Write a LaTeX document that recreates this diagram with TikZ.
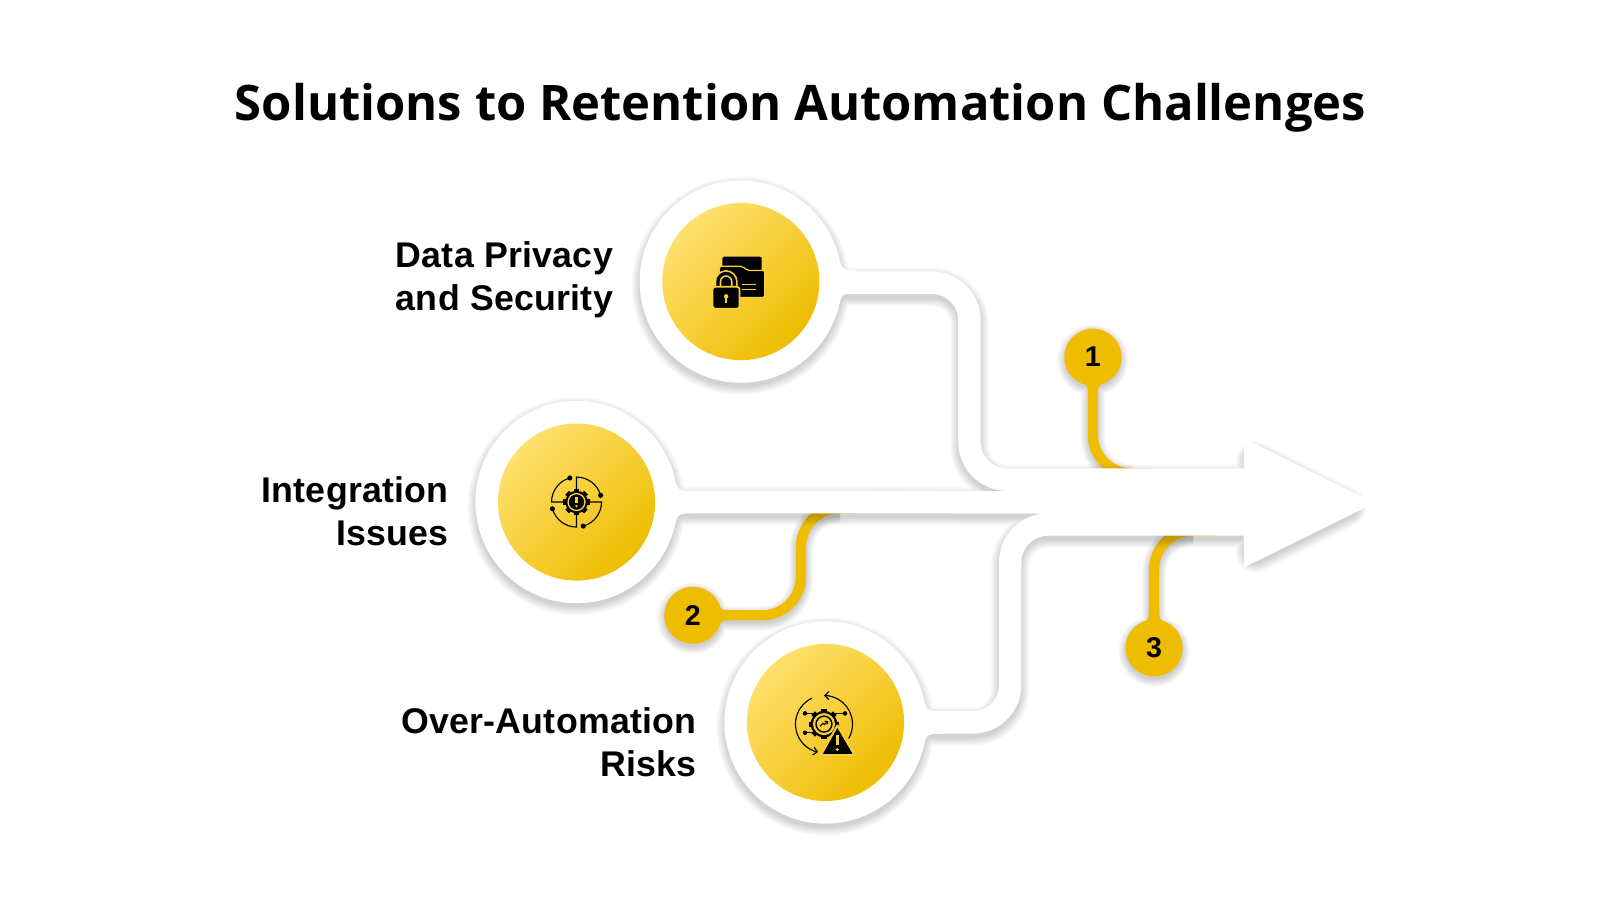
\documentclass[tikz,border=0pt]{standalone}
\usepackage{fontspec}
\usetikzlibrary{arrows.meta}
\newfontfamily\titlefont{Open Sans}[Scale=1]
\setmainfont{Liberation Sans}
\newfontfamily\labfont{Liberation Sans Bold}[LetterSpace=0.8]
\newfontfamily\numfont{Liberation Sans Bold}
\definecolor{gold}{HTML}{EEBD00}
\definecolor{goldlight}{HTML}{FFE06E}
\definecolor{goldmid}{HTML}{F8CE3A}
\tikzset{
  ring/.style={circle,fill=white,minimum size=198pt,inner sep=0pt},
  disc/.style={circle,left color=goldlight,right color=gold,shading angle=45,minimum size=154pt,inner sep=0pt},
  pinball/.style={circle,fill=gold,minimum size=56pt,inner sep=0pt,font=\numfont\fontsize{28}{28}\selectfont},
  stem/.style={gold,line width=10pt,rounded corners=38pt},
  bandline/.style={draw=white,line width=22pt,line join=round},
  lab/.style={anchor=east,align=right,inner sep=0pt,font=\labfont\fontsize{35}{42}\selectfont},
  ic/.style={black,line width=1.1pt},
}
\def\SilPath{[rounded corners=37pt] (c1) -- (j1) -- (k1) -- (k2) -- (m1) (c3) -- (k3) -- (k4) -- (m3)
  [sharp corners] (c2) -- (1230,492.4) (m1) -- (1230,470) (m3) -- (1230,514)
  (1230,447.4) -- (1320.4,493) -- (1230,538.2) -- cycle
  (c1) circle[radius=88pt] (c2) circle[radius=88pt] (c3) circle[radius=88pt]
  (810,252) .. controls (818,277) .. (840,277) (810,300) .. controls (818,277) .. (840,277)
  (649,468) .. controls (657,492) .. (679,492) (649,516) .. controls (657,492) .. (679,492)
  (893,684) .. controls (901,708) .. (923,708) (893,732) .. controls (901,708) .. (923,708)}
\def\PinPath{[rounded corners=38pt] (p1) -- (1071,464) -- (1109,464) (p3) -- (1131,520) -- (1169,520) (p2) -- (785,603) -- (785,498) -- (823,498)
  [sharp corners]}
\newcommand\pinneck[2]{\fill[gold,shift={(#1)},rotate=#2] (23pt,12pt) .. controls (29pt,5pt) .. (36pt,5pt) -- (36pt,-5pt) .. controls (29pt,-5pt) .. (23pt,-12pt) -- cycle;}
\newcommand\junc[1]{\fill[white,shift={(#1)}] (94pt,29pt) .. controls (99pt,11pt) .. (114pt,11pt) -- (114pt,-11pt) .. controls (99pt,-11pt) .. (94pt,-29pt) -- cycle;}
\begin{document}
\begin{tikzpicture}[x=1pt,y=-1pt]
\useasboundingbox (0,0) rectangle (1568,881);
\fill[white] (0,0) rectangle (1568,881);
\coordinate (c1) at (726,276);
\coordinate (c2) at (565,492);
\coordinate (c3) at (809,708);
\coordinate (j1) at (800,277);
\coordinate (k1) at (950,277);
\coordinate (k2) at (950,470);
\coordinate (m1) at (1040,470);
\coordinate (k3) at (990,708);
\coordinate (k4) at (990,514);
\coordinate (m3) at (1060,514);
\coordinate (p1) at (1071,350);
\coordinate (p2) at (679,603);
\coordinate (p3) at (1131,635);
% pin shadows
\foreach \k in {0,1,...,7}{
  \path[draw=black,draw opacity=.022,transform canvas={yshift=-3pt},line width={10pt+\k*2pt}] \PinPath
     (p1) circle[radius=23pt] (p2) circle[radius=23pt] (p3) circle[radius=23pt];
}
% pins
\draw[stem] (p1) -- (1071,464) -- (1130,464);
\draw[stem] (p3) -- (1131,520) -- (1190,520);
\draw[stem] (p2) -- (785,603) -- (785,498) -- (840,498);
\pinneck{p1}{-90}
\pinneck{p3}{90}
\pinneck{p2}{0}
\node[pinball] (pin1) at (p1) {1};
\node[pinball] (pin2) at (p2) {2};
\node[pinball] (pin3) at (p3) {3};
% silhouette shadow
\foreach \k in {0,1,...,8}{
  \path[draw=black,draw opacity=.02,transform canvas={yshift=-4pt},line join=round,line width={22pt+\k*2pt}] \SilPath;
}
% white shapes
\draw[bandline] \SilPath;
\fill[white] (1219,429.6) -- (1347,493) -- (1219,556) -- cycle;
\junc{c1}
\junc{c2}
\junc{c3}
\node[ring] (ring1) at (c1) {};
\node[ring] (ring2) at (c2) {};
\node[ring] (ring3) at (c3) {};
\node[disc] (disc1) at (c1) {};
\node[disc] (disc2) at (c2) {};
\node[disc] (disc3) at (c3) {};
% title and labels
\node[font=\titlefont\bfseries\fontsize{48}{58}\selectfont] (title) at (784.5,106) {Solutions to Retention Automation Challenges};
\node[lab] (lab1) at (601,274) {Data Privacy\\and Security};
\node[lab] (lab2) at (440,501) {Integration\\Issues};
\node[lab] (lab3) at (683,727) {Over-Automation\\Risks};
% icon 1: folder and lock
\fill[black,rounded corners=2pt] (708,251.5) rectangle (746.5,266);
\filldraw[fill=black,draw=goldmid,line width=1.2pt,rounded corners=2pt] (705,261) -- (728,261) -- (732,265) -- (749.5,265) -- (749.5,291.5) -- (705,291.5) -- cycle;
\draw[goldmid,line width=6.5pt] (703.6,283) -- (703.6,276) arc[start angle=180,end angle=0,radius=8pt] -- (719.6,283);
\draw[black,line width=3.2pt] (703.6,283) -- (703.6,276) arc[start angle=180,end angle=0,radius=8pt] -- (719.6,283);
\filldraw[fill=black,draw=goldmid,line width=1.6pt,rounded corners=2.5pt] (698.4,281) rectangle (724.7,302.5);
\fill[goldmid] (711.6,290.5) circle[radius=2.2pt];
\draw[goldmid,line width=1.3pt] (711.6,290.5) -- (711.6,296.5);
\draw[goldmid,line width=1.2pt] (727,279) -- (741,279) (727,283.5) -- (741,283.5);
% icon 2: gear with alert
\begin{scope}[shift={(c2)}]
  \foreach \a in {0,45,...,315}{\fill[black,rotate=\a] (-2.6pt,0pt) rectangle (2.6pt,13pt);}
  \fill[black] (0,0) circle[radius=11pt];
  \draw[goldmid,line width=1.3pt] (0,0) circle[radius=8.3pt];
  \draw[goldmid,line width=2.2pt] (0pt,5pt) -- (0pt,-1.2pt);
  \fill[goldmid] (0pt,-4pt) circle[radius=1.3pt];
  \foreach \a in {0,90,180,270}{
    \begin{scope}[rotate=\a]
      \draw[ic] (90:12pt) -- (90:24.5pt) arc[start angle=90,end angle=15.5,radius=24.5pt];
      \fill[black] (15.5:24.5pt) circle[radius=2.5pt];
    \end{scope}
  }
\end{scope}
% icon 3: gear with warning
\begin{scope}[shift={(807.5,709.6)}]
  \draw[ic,-{Straight Barb[length=4pt,width=8pt]}] (-30:28pt) arc[start angle=-30,end angle=90,radius=28pt];
  \draw[ic,-{Straight Barb[length=4pt,width=8pt]}] (115:28pt) arc[start angle=115,end angle=258,radius=28pt];
  \draw[ic] (-18.6pt,10.5pt) -- (20.6pt,10.5pt) (-18.6pt,-8.5pt) -- (-9pt,-8.5pt);
  \foreach \p in {(-18.6pt,10.5pt),(20.6pt,10.5pt),(-18.6pt,-8.5pt)}{\fill[black] \p circle[radius=2.2pt];}
  \foreach \a in {0,45,...,315}{\fill[black,rotate=\a] (-2.5pt,0pt) rectangle (2.5pt,15pt);}
  \fill[black] (0,0) circle[radius=13pt];
  \fill[goldmid] (0,0) circle[radius=10.8pt];
  \draw[black,line width=1.4pt] (0,0) circle[radius=7.8pt];
  \draw[black,line width=1pt,-{Straight Barb[length=2pt,width=4pt]}] (-3.8pt,-2.2pt) -- (-1pt,.8pt) -- (.4pt,-.4pt) -- (4pt,3pt);
\end{scope}
\filldraw[fill=black,draw=goldmid,line width=2pt,line join=round] (820.6,711) -- (837.5,740) -- (804.5,740) -- cycle;
\draw[goldmid,line width=2.4pt] (820.6,720) -- (820.6,730);
\fill[goldmid] (820.6,734.5) circle[radius=1.6pt];
\end{tikzpicture}
\end{document}
